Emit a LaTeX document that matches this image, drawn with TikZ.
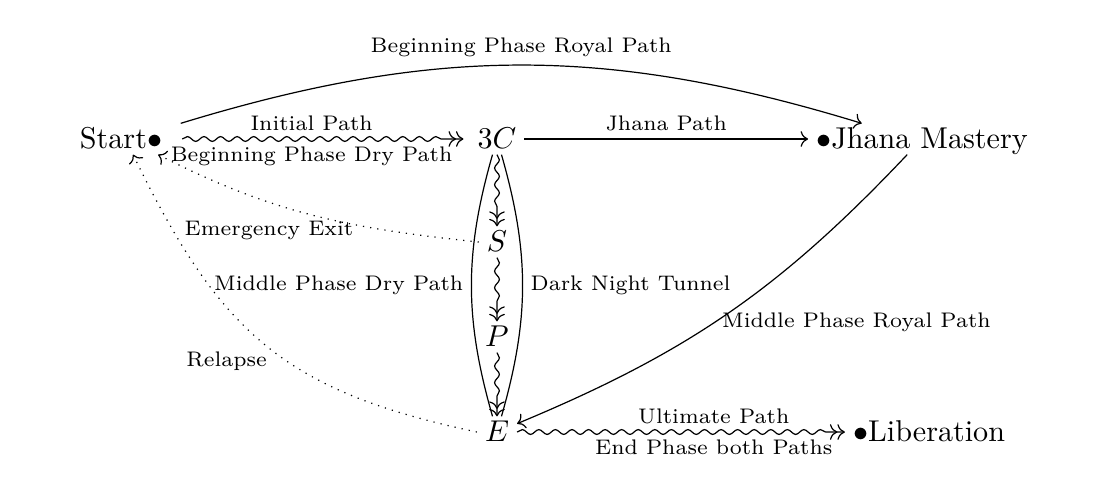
\documentclass[tikz,border=0pt]{standalone}
\usepackage{tikz}
\usetikzlibrary{arrows.meta}
\usetikzlibrary{decorations.pathmorphing}

\begin{document}
\begin{tikzpicture}[>={Computer Modern Rightarrow},
  stage/.style={text height=7pt,text depth=1pt,inner xsep=2.5pt,inner ysep=1pt},
  lbl/.style={font=\scriptsize,inner sep=2.5pt},
  wave/.style={->>,decorate,decoration={snake,amplitude=.8pt,segment length=5.5pt,post length=5pt}},
  exit/.style={->,dotted}]
\useasboundingbox (0,0) rectangle (12.835,5.846);

\node[stage] (start) at (1.412,4.224) {Start$\bullet$};
\node[stage] (cc) at (5.799,4.224) {$3C$};
\node[stage] (jhana) at (10.758,4.224) {$\bullet$Jhana Mastery};
\node[stage] (s) at (5.799,3.022) {$S$};
\node[stage] (p) at (5.799,1.914) {$P$};
\node[stage] (e) at (5.799,0.805) {$E$};
\node[stage] (lib) at (10.840,0.805) {$\bullet$Liberation};

\draw[->] ([xshift=3.5pt]start.north east) to[bend left=17] node[lbl,above] {Beginning Phase Royal Path} ([xshift=-20pt]jhana.north);
\draw[wave] ([xshift=4pt]start.east) -- node[lbl,pos=0.46,above] {Initial Path} node[lbl,pos=0.46,below] {Beginning Phase Dry Path} ([xshift=-2pt]cc.west);
\draw[->] (cc) -- node[lbl,above] {Jhana Path} (jhana);
\draw[->] (jhana) to[bend left=12] node[lbl,pos=0.54,right] {Middle Phase Royal Path} (e);
\draw[wave] (cc) -- (s);
\draw[wave] (s) -- (p);
\draw[wave] (p) -- (e);
\draw (cc) to[bend right=16] node[lbl,left] {Middle Phase Dry Path} (e);
\draw (cc) to[bend left=16] node[lbl,right] {Dark Night Tunnel} (e);
\draw[exit] (s.west) to[out=174,in=-27] node[lbl,pos=0.65,below=3.5pt] {Emergency Exit} ([xshift=-4pt]start.south east);
\draw[exit] (e.west) to[out=168,in=-64,looseness=1.15] node[lbl,pos=0.43,left=4pt] {Relapse} ([xshift=4pt]start.south);
\draw[wave] (e) -- node[lbl,pos=0.6,above] {Ultimate Path} node[lbl,pos=0.6,below] {End Phase both Paths} (lib);
\end{tikzpicture}
\end{document}
